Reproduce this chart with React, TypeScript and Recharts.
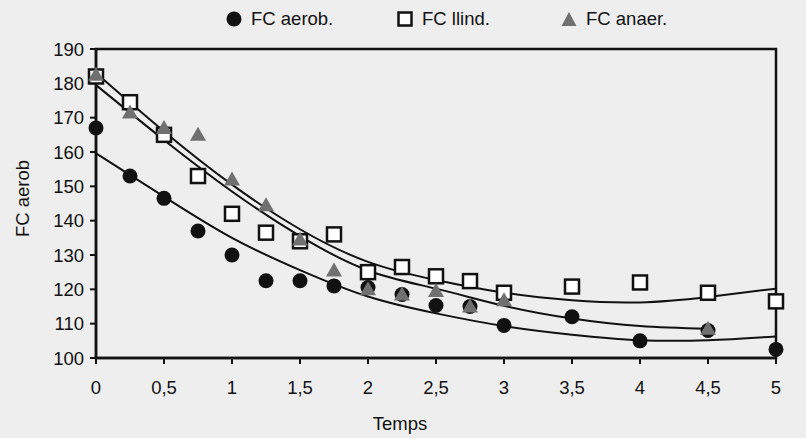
import { ComposedChart, Scatter, Line, XAxis, YAxis, ReferenceArea, Legend } from 'recharts'

const TIME = [0, 0.25, 0.5, 0.75, 1, 1.25, 1.5, 1.75, 2, 2.25, 2.5, 2.75, 3, 3.5, 4, 4.5, 5]
const AEROB = [167, 153, 146.5, 137, 130, 122.5, 122.5, 121, 120.5, 118.5, 115.3, 115, 109.5, 112, 105, 108, 102.5]
const LLIND = [182, 174.5, 165, 153, 142, 136.5, 134, 136, 125, 126.5, 123.8, 122.4, 119, 120.8, 122, 119, 116.5]
const ANAER_TIME = [0, 0.25, 0.5, 0.75, 1, 1.25, 1.5, 1.75, 2, 2.25, 2.5, 2.75, 3, 4.5]
const ANAER = [182.5, 171.5, 167, 165, 152, 144.5, 134.5, 125.5, 120, 118.5, 119.5, 115, 116.8, 108.5]

// trend curves
const FIT_TIME = [0, 0.5, 1, 1.5, 2, 2.5, 3, 3.5, 4, 4.5, 5]
const FIT_AEROB = [159.6, 147, 135, 125.6, 117.9, 113, 109.3, 106.8, 105.2, 105.2, 106.3]
const FIT_LLIND = [183, 166, 150.5, 137.5, 128, 122.7, 119, 116.8, 116.2, 117.8, 120.2]
const FIT_ANAER = [179.5, 163.5, 148.5, 135.5, 125.5, 120.2, 115.2, 111.5, 109.3, 108.5]

const Y_TICKS = [100, 110, 120, 130, 140, 150, 160, 170, 180, 190]
const X_TICKS = [0, 0.5, 1, 1.5, 2, 2.5, 3, 3.5, 4, 4.5, 5]

const SERIES = ['FC aerob.', 'FC llind.', 'FC anaer.']
const TRI_GRAY = '#707070'
const FONT = '"Liberation Sans", Arial, sans-serif'
const FS = 18.5

const zip = (xs: number[], ys: number[]) => ys.map((y, i) => ({ x: xs[i], y }))

const aerobPts = zip(TIME, AEROB)
const llindPts = zip(TIME, LLIND)
const anaerPts = zip(ANAER_TIME, ANAER)
const fitAerob = zip(FIT_TIME, FIT_AEROB)
const fitLlind = zip(FIT_TIME, FIT_LLIND)
const fitAnaer = zip(FIT_TIME, FIT_ANAER)

const Dot = (p: any) => <circle cx={p.cx} cy={p.cy} r={7.5} fill="#111" />
const Box = (p: any) => <rect x={p.cx - 7} y={p.cy - 7} width={14} height={14} fill="#fff" stroke="#111" strokeWidth={2.5} />
const Tri = (p: any) => <path d={`M${p.cx},${p.cy - 8} L${p.cx + 8},${p.cy + 6} L${p.cx - 8},${p.cy + 6} Z`} fill={TRI_GRAY} />

const icons = [
  <svg width={16} height={16}><circle cx={8} cy={8} r={7.5} fill="#111" /></svg>,
  <svg width={16} height={16}><rect x={1.5} y={1.5} width={13} height={13} fill="#fff" stroke="#111" strokeWidth={2.5} /></svg>,
  <svg width={16} height={16}><path d="M8,1 L15.5,15 L0.5,15 Z" fill={TRI_GRAY} /></svg>,
]
const itemWidths = [171, 164, 140]

function renderLegend() {
  return (
    <div style={{ display: 'flex', alignItems: 'center', height: 20, lineHeight: '20px', paddingLeft: 226, fontFamily: FONT, fontSize: FS, color: '#111' }}>
      {SERIES.map((name, i) => (
        <div key={name} style={{ display: 'flex', alignItems: 'center', width: itemWidths[i] }}>
          {icons[i]}
          <span style={{ marginLeft: 9 }}>{name}</span>
        </div>
      ))}
    </div>
  )
}

export default function App() {
  const tick = { fontSize: FS, fill: '#111', fontFamily: FONT }
  return (
    <div style={{ position: 'fixed', left: 0, top: 0, width: 806, height: 438, background: '#eeeeee' }}>
      <ComposedChart width={806} height={438} margin={{ top: 29, right: 30, bottom: 0, left: 0 }}>
        <XAxis
          type="number"
          dataKey="x"
          domain={[0, 5]}
          ticks={X_TICKS}
          tick={tick}
          tickFormatter={(v: number) => String(v).replace('.', ',')}
          tickSize={6}
          tickMargin={17}
          height={80}
          axisLine={{ stroke: '#111', strokeWidth: 2.5 }}
          tickLine={{ stroke: '#111', strokeWidth: 2 }}
          label={{ value: 'Temps', position: 'insideBottom', offset: 8, dx: -36, style: { fontSize: FS, fill: '#111', fontFamily: FONT } }}
        />
        <YAxis
          type="number"
          domain={[100, 190]}
          ticks={Y_TICKS}
          tick={tick}
          tickSize={6}
          tickMargin={6}
          width={96}
          axisLine={{ stroke: '#111', strokeWidth: 2.5 }}
          tickLine={{ stroke: '#111', strokeWidth: 2 }}
          label={{ value: 'FC aerob', angle: -90, position: 'insideLeft', offset: 22, dy: -5, style: { fontSize: FS, fill: '#111', fontFamily: FONT, textAnchor: 'middle' } }}
        />
        <ReferenceArea x1={0} x2={5} y1={100} y2={190} fill="none" stroke="#111" strokeWidth={2.5} ifOverflow="visible" />
        <Legend verticalAlign="top" content={renderLegend} wrapperStyle={{ top: 9, left: 0, width: 806 }} />
        <Line data={fitAerob} dataKey="y" type="natural" stroke="#111" strokeWidth={2} dot={false} legendType="none" isAnimationActive={false} />
        <Line data={fitLlind} dataKey="y" type="natural" stroke="#111" strokeWidth={2} dot={false} legendType="none" isAnimationActive={false} />
        <Line data={fitAnaer} dataKey="y" type="natural" stroke="#111" strokeWidth={2} dot={false} legendType="none" isAnimationActive={false} />
        <Scatter name={SERIES[0]} data={aerobPts} dataKey="y" shape={Dot} isAnimationActive={false} />
        <Scatter name={SERIES[1]} data={llindPts} dataKey="y" shape={Box} isAnimationActive={false} />
        <Scatter name={SERIES[2]} data={anaerPts} dataKey="y" shape={Tri} isAnimationActive={false} />
      </ComposedChart>
    </div>
  )
}
